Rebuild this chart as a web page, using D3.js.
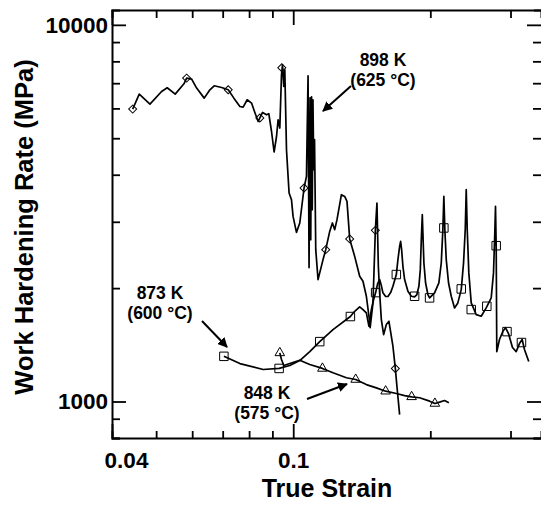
<!DOCTYPE html>
<html lang="en">
<head>
<meta charset="UTF-8">
<title>Work hardening rate</title>
<style>
  body { margin: 0; background: #fff; }
  svg { display: block; font-family: "Liberation Sans", Arial, sans-serif; }
</style>
</head>
<body>
<svg id="chart" width="541" height="506"></svg>
<script src="https://d3js.org/d3.v7.min.js"></script>
<script>
// 898 K (625 C) curve
const strain898 = [0.04441,0.04591,0.04846,0.05140,0.05288,0.05506,0.05755,0.05834,0.05984,0.06136,
  0.06376,0.06562,0.06706,0.06962,0.07198,0.07408,0.07636,0.07764,0.07922,0.08100,
  0.08236,0.08375,0.08563,0.08737,0.08840,0.08961,0.09079,0.09190,0.09264,0.09344,
  0.09424,0.09472,0.09534,0.09583,0.09665,0.09793,0.09912,0.09992,0.10165,0.10336,
  0.10563,0.10692,0.10779,0.10833,0.10888,0.10926,0.10971,0.11010,0.11049,0.11093,
  0.11138,0.11206,0.11337,0.11626,0.11786,0.12026,0.12191,0.12334,0.12478,0.12758,
  0.12972,0.13124,0.13304,0.13644,0.13993,0.14228,0.14474,0.14665,0.14754,0.14965,
  0.15147,0.15270,0.15378,0.15480,0.15613,0.15796,0.16012,0.16224,0.16555,0.16757,
  0.16893,0.17125];
const rate898 = [5975,6549,6160,6654,6806,6549,6974,7222,7178,6794,
  6389,6724,6890,6819,6724,6389,6071,6048,6325,6199,
  5853,5540,5853,5771,5807,5210,4596,5053,5598,5320,
  7368,7832,6861,7597,4661,3577,3434,3100,2812,2978,
  3688,3959,7323,2267,6402,2690,6441,3230,6325,4125,
  4955,2530,2107,2380,2530,2829,2978,2859,3039,3540,
  3503,3398,2702,2428,2150,2085,1903,1684,1571,1827,
  2847,3365,2285,1943,1650,1505,1601,1633,1402,1224,
  1098,923];
const mark898X = [0.04441,0.05834,0.07198,0.08447,0.09439,0.10563,0.11786,0.13304,0.15147,0.16757];
const mark898Y = [5975,7222,6724,5658,7690,3688,2530,2702,2847,1224];

// 873 K (600 C) curve
const strain873 = [0.07043,0.07636,0.08589,0.09311,0.09827,0.10336,0.10872,0.11434,0.12228,0.13351,
  0.13644,0.13993,0.14228,0.14474,0.14665,0.14844,0.15017,0.15170,0.15324,0.15480,
  0.15613,0.15740,0.15956,0.16142,0.16364,0.16555,0.16842,0.16979,0.17125,0.17212,
  0.17299,0.17413,0.17563,0.17858,0.18168,0.18473,0.18689,0.18878,0.19012,0.19109,
  0.19205,0.19264,0.19361,0.19528,0.19756,0.19926,0.20435,0.20883,0.21138,0.21310,
  0.21417,0.21526,0.21678,0.21932,0.22233,0.22606,0.22986,0.23385,0.23658,0.23862,
  0.23982,0.24104,0.24299,0.24596,0.25226,0.25870,0.26532,0.27210,0.27528,0.27709,
  0.27807,0.27905,0.27990,0.28375,0.28851,0.29248,0.29694,0.30301,0.30872,0.31390,
  0.31821,0.32193,0.32899];
const rate873 = [1318,1261,1216,1224,1246,1284,1357,1442,1552,1681,
  1736,1783,1754,1719,1584,1754,1865,1946,2056,2107,
  2031,1943,1900,1900,1946,2022,2173,2380,2581,2661,
  2530,2285,2107,1962,1903,1896,1923,2022,2239,2690,
  3133,2802,2332,2064,1923,1884,1943,2064,2332,2859,
  3503,2859,2380,2064,1903,1772,1827,1982,2332,2859,
  3650,2859,2195,1827,1701,1684,1772,1884,2195,2802,
  3297,2581,1357,1461,1533,1571,1515,1391,1357,1425,
  1461,1374,1277];
const mark873X = [0.07043,0.09311,0.11434,0.13351,0.15170,0.16842,0.18473,0.19926,0.21417,0.23385,0.24596,0.26612,0.27905,0.29469,0.31708];
const mark873Y = [1318,1224,1442,1681,1946,2173,1903,1884,2889,1990,1754,1790,2592,1533,1434];

// 848 K (575 C) curve
const strain848 = [0.09344,0.09424,0.09534,0.09827,0.10336,0.10872,0.11591,0.12228,0.13084,0.13713,
  0.14474,0.15223,0.15956,0.16842,0.17563,0.18195,0.18945,0.19926,0.20466,0.20958,
  0.21493,0.21965];
const rate848 = [1346,1293,1246,1261,1287,1254,1224,1192,1156,1144,
  1109,1087,1065,1050,1037,1029,1023,1002,988,996,
  1006,992];
const mark848X = [0.09344,0.11591,0.13713,0.15956,0.18195,0.20466];
const mark848Y = [1346,1224,1144,1065,1029,988];

// axis ticks
const xTicks = [0.04,0.05,0.06,0.07,0.08,0.09,0.1,0.2,0.3];
const xMajor = [0.04,0.1];
const yTicks = [800,900,1000,2000,3000,4000,5000,6000,7000,8000,9000,10000];
const yMajor = [1000,10000];

const svg = d3.select("#chart");
const padL = 112, padR = 541, padT = 10, padB = 438;

const x = d3.scaleLog().domain([0.04, 0.35]).range([padL, padR]);
const y = d3.scaleLog().domain([800, 10950]).range([padB, padT]);

const isMajorX = v => xMajor.some(m => Math.abs(m - v) < 1e-9);
const isMajorY = v => yMajor.indexOf(v) >= 0;

// axes (ticks pointing inward)
const gx = svg.append("g").attr("transform", `translate(0,${padB})`)
  .call(d3.axisBottom(x).tickValues(xTicks).tickSize(-7).tickPadding(14)
    .tickFormat(d => isMajorX(d) ? (d === 0.1 ? "0.1" : "0.04") : ""));
const gxTop = svg.append("g").attr("transform", `translate(0,${padT})`)
  .call(d3.axisTop(x).tickValues(xTicks).tickSize(-8).tickFormat(""));
const gy = svg.append("g").attr("transform", `translate(${padL},0)`)
  .call(d3.axisLeft(y).tickValues(yTicks).tickSize(-8).tickPadding(-2)
    .tickFormat(d => isMajorY(d) ? String(d) : ""));
const gyRight = svg.append("g").attr("transform", `translate(543,0)`)
  .call(d3.axisRight(y).tickValues(yTicks).tickSize(-9).tickFormat(""));

gx.selectAll(".tick line").attr("y2", d => isMajorX(d) ? -14 : -7);
gxTop.selectAll(".tick line").attr("y2", d => isMajorX(d) ? 15 : 8);
gy.selectAll(".tick line").attr("x2", d => isMajorY(d) ? 14 : 8);
gyRight.selectAll(".tick line").attr("x2", d => isMajorY(d) ? -16 : -10);

[gx, gxTop, gy, gyRight].forEach(g => {
  g.select(".domain").attr("stroke", "#000").attr("stroke-width", 2);
  g.selectAll(".tick line").attr("stroke", "#000").attr("stroke-width", 1.8);
  g.selectAll(".tick text").attr("fill", "#000")
    .style("font-size", "22.5px").style("font-weight", "bold")
    .style("font-family", '"Liberation Sans", Arial, sans-serif');
});
gx.selectAll(".tick text").attr("dx", d => d === 0.04 ? 14 : 0);
gy.selectAll(".tick text").attr("dx", -6);

// axis titles
svg.append("text").attr("x", 327).attr("y", 497).attr("text-anchor", "middle")
  .style("font-size", "25px").style("font-weight", "bold").text("True Strain");
svg.append("text").attr("transform", "translate(33,227) rotate(-90)").attr("text-anchor", "middle")
  .style("font-size", "25.5px").style("font-weight", "bold").text("Work Hardening Rate (MPa)");

// curves
const line = d3.line().x(d => x(d[0])).y(d => y(d[1]));
const plot = svg.append("g");
const series = [
  [strain898, rate898],
  [strain873, rate873],
  [strain848, rate848]
];
series.forEach(([xs, ys]) => {
  plot.append("path")
    .datum(xs.map((v, i) => [v, ys[i]]))
    .attr("d", line)
    .attr("fill", "none").attr("stroke", "#000")
    .attr("stroke-width", 1.7).attr("stroke-linejoin", "round");
});

// markers
function markers(xs, ys, type, size, rot) {
  plot.append("g").selectAll("path")
    .data(xs.map((v, i) => [v, ys[i]]))
    .join("path")
      .attr("d", d3.symbol().type(type).size(size))
      .attr("transform", d => `translate(${x(d[0])},${y(d[1])}) rotate(${rot})`)
      .attr("fill", "none").attr("stroke", "#000").attr("stroke-width", 1);
}
markers(mark898X, mark898Y, d3.symbolSquare, 32, 45);
markers(mark873X, mark873Y, d3.symbolSquare, 72, 0);
markers(mark848X, mark848Y, d3.symbolTriangle, 40, 0);

// annotations
svg.append("defs").append("marker")
  .attr("id", "arrow").attr("viewBox", "0 0 10 10")
  .attr("refX", 9).attr("refY", 5)
  .attr("markerWidth", 5).attr("markerHeight", 5)
  .attr("markerUnits", "strokeWidth")
  .attr("orient", "auto")
  .append("path").attr("d", "M0,0L10,5L0,10z").attr("fill", "#000");

const notes = [
  { t1: "898 K", t2: "(625 \u00b0C)", cx: 383, cy: 60, ax1: 351, ay1: 86, ax2: 323, ay2: 111 },
  { t1: "873 K", t2: "(600 \u00b0C)", cx: 160, cy: 293, ax1: 202, ay1: 321, ax2: 227, ay2: 347 },
  { t1: "848 K", t2: "(575 \u00b0C)", cx: 267, cy: 393, ax1: 307, ay1: 399, ax2: 347, ay2: 384 }
];
notes.forEach(n => {
  const g = svg.append("g").style("font-size", "17.5px").style("font-weight", "bold")
    .attr("text-anchor", "middle");
  g.append("text").attr("x", n.cx).attr("y", n.cy + 6).text(n.t1);
  g.append("text").attr("x", n.cx).attr("y", n.cy + 26).text(n.t2);
  svg.append("line")
    .attr("x1", n.ax1).attr("y1", n.ay1).attr("x2", n.ax2).attr("y2", n.ay2)
    .attr("stroke", "#000").attr("stroke-width", 2)
    .attr("marker-end", "url(#arrow)");
});
</script>
</body>
</html>
